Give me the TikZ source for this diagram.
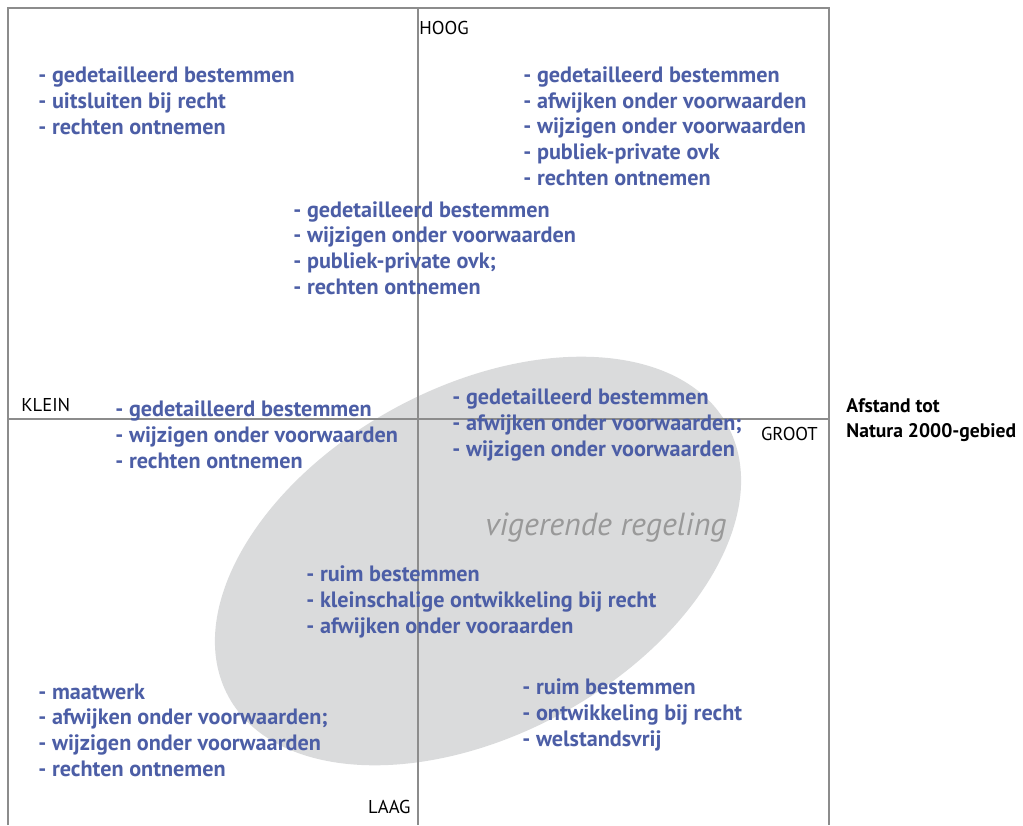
\documentclass[tikz,border=0pt]{standalone}
\usepackage{fontspec}
\setmainfont{PT Sans}
\definecolor{lijstblauw}{RGB}{76,94,166}
\definecolor{vlakgrijs}{RGB}{218,219,220}
\definecolor{asgrijs}{RGB}{140,140,140}
\begin{document}
\begin{tikzpicture}[x=0.5pt, y=-0.5pt,
    lijst/.style={anchor=base west, inner sep=0pt, align=left, text=lijstblauw,
      font=\fontsize{11.1}{12.8}\selectfont\bfseries},
    asnaam/.style={inner sep=0pt, font=\fontsize{9.3}{11}\selectfont}]
    \useasboundingbox (0,0) rectangle (1023,825);
    % vigerende regeling
    \fill[vlakgrijs, rotate around={28.5:(478,561)}] (478,561) ellipse [x radius=284, y radius=174];
    \node[inner sep=0pt, text=black!40, font=\fontsize{16}{18}\selectfont\itshape] (vig) at (606,528) {vigerende regeling};
    % kader en assen
    \draw[asgrijs, line width=0.75pt] (8,825) -- (8,8) -- (829,8) -- (829,825);
    \draw[asgrijs, line width=0.75pt] (418,8) -- (418,825);
    \draw[asgrijs, line width=0.75pt] (8,419) -- (829,419);
    % asnamen
    \node[asnaam, anchor=west] (hoog) at (419,28) {HOOG};
    \node[asnaam, anchor=east] (laag) at (411,807) {LAAG};
    \node[asnaam, anchor=west] (klein) at (21,405) {KLEIN};
    \node[asnaam, anchor=east] (groot) at (818,434) {GROOT};
    \node[asnaam, anchor=base west, align=left, font=\fontsize{9.8}{12.5}\selectfont\bfseries] (afstand) at (846,437) {Afstand tot\\Natura 2000-gebied};
    % kwadrant boven (basislijn van de laatste regel)
    \node[lijst] (lb) at (38,134) {- gedetailleerd bestemmen\\- uitsluiten bij recht\\- rechten ontnemen};
    \node[lijst] (rb) at (523,185) {- gedetailleerd bestemmen\\- afwijken onder voorwaarden\\- wijzigen onder voorwaarden\\- publiek-private ovk\\- rechten ontnemen};
    \node[lijst] (mb) at (293,294) {- gedetailleerd bestemmen\\- wijzigen onder voorwaarden\\- publiek-private ovk;\\- rechten ontnemen};
    % midden
    \node[lijst] (lm) at (115,468) {- gedetailleerd bestemmen\\- wijzigen onder voorwaarden\\- rechten ontnemen};
    \node[lijst] (rm) at (452,456) {- gedetailleerd bestemmen\\- afwijken onder voorwaarden;\\- wijzigen onder voorwaarden};
    \node[lijst] (mo) at (306,633) {- ruim bestemmen\\- kleinschalige ontwikkeling bij recht\\- afwijken onder vooraarden};
    % kwadrant onder
    \node[lijst] (lo) at (38,776) {- maatwerk\\- afwijken onder voorwaarden;\\- wijzigen onder voorwaarden\\- rechten ontnemen};
    \node[lijst] (ro) at (522,746) {- ruim bestemmen\\- ontwikkeling bij recht\\- welstandsvrij};
\end{tikzpicture}
\end{document}
